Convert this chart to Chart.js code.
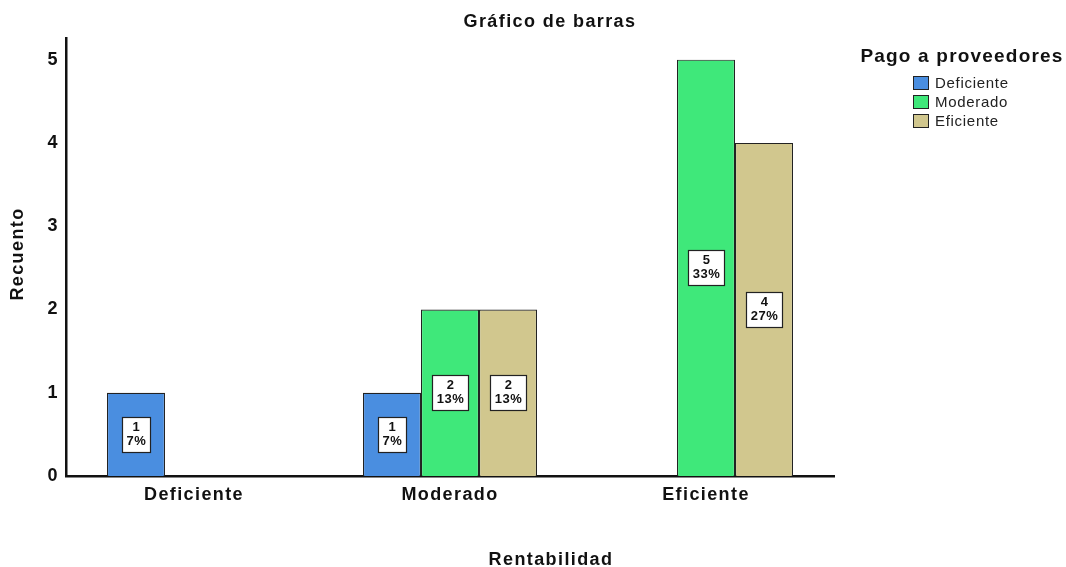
<!DOCTYPE html>
<html lang="es">
<head>
<meta charset="utf-8">
<title>Gráfico de barras</title>
<script src="https://cdn.jsdelivr.net/npm/chart.js@4.4.1/dist/chart.umd.min.js"></script>
<style>
  html, body { margin: 0; padding: 0; background: #fff; }
  #wrap { width: 1066px; height: 567px; position: relative; }
</style>
</head>
<body>
<div id="wrap"><canvas id="myChart" width="1066" height="567"></canvas></div>
<script>
  // data
  const categories = ['Deficiente', 'Moderado', 'Eficiente'];
  const seriesNames = ['Deficiente', 'Moderado', 'Eficiente'];
  const deficiente = [1, 1, 0];
  const moderado = [0, 2, 5];
  const eficiente = [0, 2, 4];
  const yTicks = [0, 1, 2, 3, 4, 5];

  const colors = ['#4a8ee0', '#3fe87a', '#d1c78e'];
  const allSeries = [deficiente, moderado, eficiente];
  const total = allSeries.flat().reduce((a, b) => a + b, 0);

  const FONT = '"Liberation Sans", Arial, sans-serif';

  // titles, legend and value boxes
  const extras = {
    id: 'extras',
    beforeDraw(chart) {
      // the reference text is a bit wider than plain Arial
      chart.ctx.letterSpacing = '1.4px';
    },
    afterDatasetsDraw(chart) {
      const ctx = chart.ctx;
      ctx.save();
      ctx.letterSpacing = '0.5px';
      chart.data.datasets.forEach((ds, di) => {
        const meta = chart.getDatasetMeta(di);
        meta.data.forEach((bar, i) => {
          const v = ds.data[i];
          if (!v) return;
          const pct = Math.round(v / total * 100) + '%';
          ctx.font = 'bold 13px ' + FONT;
          const w = Math.round(Math.max(ctx.measureText(pct).width, ctx.measureText(String(v)).width) + 8);
          const h = 35;
          const cx = bar.x;
          const cy = (bar.y + bar.base) / 2;
          const x0 = Math.round(cx - w / 2) + 0.5;
          const y0 = Math.round(cy - h / 2) + 0.5;
          ctx.fillStyle = '#fff';
          ctx.fillRect(x0, y0, w, h);
          ctx.strokeStyle = '#222';
          ctx.lineWidth = 1.2;
          ctx.strokeRect(x0, y0, w, h);
          ctx.fillStyle = '#111';
          ctx.textAlign = 'center';
          ctx.textBaseline = 'middle';
          ctx.fillText(String(v), cx + 0.5, cy - 7);
          ctx.fillText(pct, cx + 0.5, cy + 7);
        });
      });
      ctx.restore();
    },
    afterDraw(chart) {
      const ctx = chart.ctx;
      ctx.save();
      ctx.fillStyle = '#111';
      ctx.textBaseline = 'middle';
      ctx.textAlign = 'center';
      ctx.letterSpacing = '1.4px';
      ctx.font = 'bold 18px ' + FONT;
      ctx.fillText('Gráfico de barras', 550, 22);
      ctx.fillText('Rentabilidad', 551, 560);
      ctx.save();
      ctx.translate(18, 254);
      ctx.rotate(-Math.PI / 2);
      ctx.fillText('Recuento', 0, 0);
      ctx.restore();

      // legend
      ctx.letterSpacing = '1.2px';
      ctx.font = 'bold 19px ' + FONT;
      ctx.fillText('Pago a proveedores', 962, 57);
      ctx.textAlign = 'left';
      ctx.letterSpacing = '0.7px';
      ctx.font = '15px ' + FONT;
      seriesNames.forEach((name, i) => {
        const y = 83 + i * 19;
        ctx.fillStyle = colors[i];
        ctx.fillRect(913, y - 7, 16, 14);
        ctx.strokeStyle = '#222';
        ctx.lineWidth = 1;
        ctx.strokeRect(913.5, y - 6.5, 15, 13);
        ctx.fillStyle = '#222';
        ctx.fillText(name, 935, y + 1);
      });
      ctx.restore();
    }
  };

  const datasets = seriesNames.map((name, i) => ({
    label: name,
    data: allSeries[i],
    backgroundColor: colors[i],
    borderColor: '#222',
    borderWidth: 1.2,
    borderSkipped: 'bottom',
    categoryPercentage: 0.68,
    barPercentage: 1.0
  }));

  new Chart(document.getElementById('myChart'), {
    type: 'bar',
    data: { labels: categories, datasets: datasets },
    options: {
      responsive: false,
      animation: false,
      layout: { padding: { top: 38, right: 232, left: 0, bottom: 0 } },
      plugins: {
        legend: { display: false },
        title: { display: false },
        tooltip: { enabled: false }
      },
      scales: {
        x: {
          grid: { display: false, drawTicks: false },
          border: { display: true, color: '#111', width: 2.5 },
          ticks: { color: '#111', font: { family: FONT, size: 18, weight: 'bold' }, padding: 8 },
          afterFit(scale) { scale.height = 91; }
        },
        y: {
          min: 0,
          max: 5.26,
          grid: { display: false, drawTicks: false },
          border: { display: true, color: '#111', width: 2.5 },
          ticks: { stepSize: 1, color: '#111', font: { family: FONT, size: 18, weight: 'bold' }, padding: 7 },
          afterBuildTicks(scale) { scale.ticks = yTicks.map(v => ({ value: v })); },
          afterFit(scale) { scale.width = 66; }
        }
      }
    },
    plugins: [extras]
  });
</script>
</body>
</html>
